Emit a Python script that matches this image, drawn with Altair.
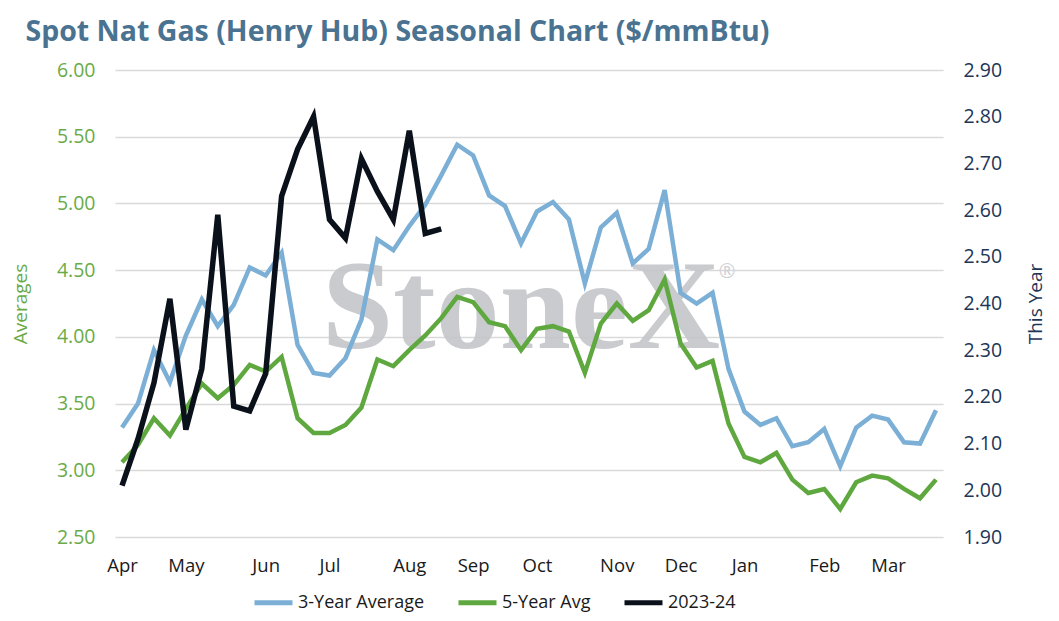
import altair as alt
import pandas as pd

FONT = "Open Sans"

weeks = list(range(52))

three_yr = [3.32, 3.50, 3.90, 3.66, 4.01, 4.28, 4.08, 4.24, 4.52, 4.46, 4.63, 3.94, 3.73, 3.71,
            3.84, 4.13, 4.73, 4.65, 4.83, 4.99, 5.21, 5.44, 5.36, 5.06, 4.98, 4.70, 4.94, 5.01,
            4.88, 4.40, 4.82, 4.93, 4.55, 4.66, 5.10, 4.33, 4.25, 4.33, 3.76, 3.44, 3.34, 3.39,
            3.18, 3.21, 3.31, 3.03, 3.32, 3.41, 3.38, 3.21, 3.20, 3.45]

five_yr = [3.06, 3.19, 3.39, 3.26, 3.46, 3.65, 3.54, 3.64, 3.79, 3.74, 3.85, 3.39, 3.28, 3.28,
           3.34, 3.47, 3.83, 3.78, 3.90, 4.01, 4.14, 4.30, 4.26, 4.11, 4.08, 3.90, 4.06, 4.08,
           4.04, 3.73, 4.10, 4.25, 4.12, 4.20, 4.43, 3.95, 3.77, 3.82, 3.35, 3.10, 3.06, 3.13,
           2.93, 2.83, 2.86, 2.71, 2.91, 2.96, 2.94, 2.86, 2.79, 2.93]

this_year = [2.01, 2.11, 2.23, 2.41, 2.13, 2.26, 2.59, 2.18, 2.17, 2.25, 2.63, 2.73, 2.80,
             2.58, 2.54, 2.71, 2.64, 2.58, 2.77, 2.55, 2.56]

month_labels = ["Apr", "May", "Jun", "Jul", "Aug", "Sep", "Oct", "Nov", "Dec", "Jan", "Feb", "Mar"]
month_weeks = [0, 4, 9, 13, 18, 22, 26, 31, 35, 39, 44, 48]

left_ticks = [2.5, 3.0, 3.5, 4.0, 4.5, 5.0, 5.5, 6.0]
right_ticks = [1.9, 2.0, 2.1, 2.2, 2.3, 2.4, 2.5, 2.6, 2.7, 2.8, 2.9]

series_names = ["3-Year Average", "5-Year Avg", "2023-24"]
series_colors = ["#7bafd6", "#5fa83f", "#0b111b"]

avg_df = pd.DataFrame({
    "week": weeks + weeks,
    "value": three_yr + five_yr,
    "series": [series_names[0]] * len(three_yr) + [series_names[1]] * len(five_yr),
})
ty_df = pd.DataFrame({
    "week": weeks[:len(this_year)],
    "value": this_year,
    "series": [series_names[2]] * len(this_year),
})

label_expr = ("[" + ",".join(f"'{m}'" for m in month_labels) + "][indexof(["
              + ",".join(str(w) for w in month_weeks) + "], datum.value)]")

x_enc = alt.X(
    "week:Q",
    scale=alt.Scale(domain=[-0.44, 51.44], nice=False, zero=False),
    axis=alt.Axis(values=month_weeks, labelExpr=label_expr, title=None, grid=False,
                  ticks=False, domain=False, labelPadding=19, labelFontSize=18.5,
                  labelColor="#1a1a1a", labelFont=FONT, labelFlush=False),
)

color_enc = alt.Color(
    "series:N",
    scale=alt.Scale(domain=series_names, range=series_colors),
    sort=series_names,
    legend=alt.Legend(title=None, orient="none", legendX=137, legendY=511,
                      direction="horizontal", symbolType="stroke", symbolSize=1444,
                      symbolStrokeWidth=5, labelFontSize=18, labelFont=FONT,
                      labelColor="#1a1a1a", columnPadding=23, labelOffset=3),
)

watermark = alt.Chart(pd.DataFrame({"t": ["StoneX"]})).mark_text(
    font="Liberation Serif", fontWeight="bold", fontSize=128, color="#c5c6c9",
    align="center", baseline="alphabetic", opacity=0.9,
).encode(x=alt.value(406), y=alt.value(278), text="t:N")

reg = alt.Chart(pd.DataFrame({"t": ["®"]})).mark_text(
    font=FONT, fontSize=20, color="#d0d1d4", align="center", baseline="middle",
).encode(x=alt.value(612), y=alt.value(202), text="t:N")

avg_lines = alt.Chart(avg_df).mark_line(strokeWidth=4.5).encode(
    x=x_enc,
    y=alt.Y("value:Q",
            scale=alt.Scale(domain=[2.5, 6.0], nice=False, zero=False),
            axis=alt.Axis(orient="left", values=left_ticks, format=".2f", title="Averages",
                          titleColor="#6aab48", titleFontSize=19, titleFontWeight="normal",
                          titleFont=FONT, titlePadding=26, labelColor="#6aab48",
                          labelFontSize=19.5, labelFont=FONT, labelPadding=20,
                          ticks=False, domain=False, grid=True, gridColor="#d9d9d9",
                          gridWidth=1.5)),
    color=color_enc,
    detail="series:N",
)

ty_line = alt.Chart(ty_df).mark_line(strokeWidth=5.5).encode(
    x=x_enc,
    y=alt.Y("value:Q",
            scale=alt.Scale(domain=[1.9, 2.9], nice=False, zero=False),
            axis=alt.Axis(orient="right", values=right_ticks, format=".2f", title="This Year",
                          titleColor="#1d3557", titleFontSize=19, titleFontWeight="normal",
                          titleFont=FONT, titleAngle=270, titlePadding=44,
                          labelColor="#1d3557", labelFontSize=19.5, labelFont=FONT,
                          labelPadding=20, ticks=False, domain=False, grid=False)),
    color=color_enc,
)

chart = alt.layer(watermark, reg, avg_lines, ty_line).resolve_scale(
    y="independent"
).properties(
    width=828,
    height=467,
    padding={"left": 107, "top": 62, "right": 105, "bottom": 76},
    autosize=alt.AutoSizeParams(type="none"),
    title=alt.TitleParams(
        text="Spot Nat Gas (Henry Hub) Seasonal Chart ($/mmBtu)",
        anchor="start", dx=14, offset=14, fontSize=28.5, fontWeight="bold",
        color="#4a7291", font=FONT,
    ),
).configure_view(stroke=None)

chart.save("out.html", embed_options={"renderer": "svg", "actions": False})
